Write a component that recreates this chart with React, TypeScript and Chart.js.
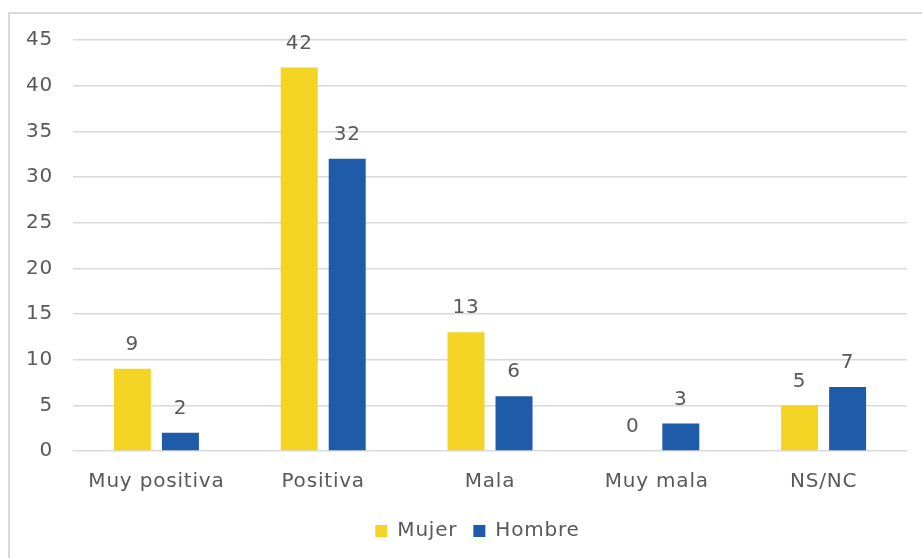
import React, { useEffect, useRef } from "react";
import { Chart, registerables } from "chart.js";

Chart.register(...registerables);

const categories = ["Muy positiva", "Positiva", "Mala", "Muy mala", "NS/NC"];
const mujerValues = [9, 42, 13, 0, 5];
const hombreValues = [2, 32, 6, 3, 7];
const seriesNames = ["Mujer", "Hombre"];
const yTicks = { min: 0, max: 45, step: 5 };

const FONT = "'DejaVu Sans', sans-serif";
const TEXT = "#595959";
const SIZE = 20;
const SPACING = "0.8px";

const spacingPlugin = {
  id: "spacing",
  beforeUpdate(chart: any) {
    chart.ctx.letterSpacing = SPACING;
  },
  afterLayout(chart: any) {
    const lg = chart.legend;
    if (lg) {
      lg.left += 24;
      lg.right += 24;
    }
  },
  beforeDraw(chart: any) {
    chart.ctx.letterSpacing = SPACING;
  },
};

const labelPlugin = {
  id: "valueLabels",
  afterDatasetsDraw(chart: any) {
    const ctx = chart.ctx;
    ctx.save();
    ctx.font = `${SIZE}px ${FONT}`;
    ctx.fillStyle = TEXT;
    ctx.textAlign = "center";
    ctx.textBaseline = "middle";
    chart.data.datasets.forEach((ds: any, i: number) => {
      const meta = chart.getDatasetMeta(i);
      meta.data.forEach((bar: any, j: number) => {
        ctx.fillText(String(ds.data[j]), bar.x, bar.y - 24);
      });
    });
    ctx.restore();
  },
};

export default function App() {
  const ref = useRef<HTMLCanvasElement>(null);
  useEffect(() => {
    if (!ref.current) return;
    const chart = new Chart(ref.current, {
      type: "bar",
      data: {
        labels: categories,
        datasets: [
          { label: seriesNames[0], data: mujerValues, backgroundColor: "#F3D324" },
          { label: seriesNames[1], data: hombreValues, backgroundColor: "#1F5BA8" },
        ],
      },
      options: {
        animation: false,
        responsive: true,
        maintainAspectRatio: false,
        layout: { padding: { left: 0, right: 15, top: 40, bottom: 7 } },
        datasets: { bar: { categoryPercentage: 0.576, barPercentage: 0.77 } },
        scales: {
          x: {
            grid: { display: false },
            border: { display: false },
            ticks: { color: TEXT, font: { family: FONT, size: SIZE }, padding: 11, maxRotation: 0 },
          },
          y: {
            min: yTicks.min,
            max: yTicks.max,
            afterFit(scale: any) {
              scale.width = 73;
            },
            grid: { color: "#D9D9D9", lineWidth: 1.5, drawTicks: false },
            border: { display: false },
            ticks: { stepSize: yTicks.step, color: TEXT, font: { family: FONT, size: SIZE }, padding: 20 },
          },
        },
        plugins: {
          legend: {
            position: "bottom",
            labels: {
              boxWidth: 12,
              boxHeight: 12,
              padding: 16,
              color: TEXT,
              font: { family: FONT, size: SIZE },
            },
          },
          tooltip: { enabled: false },
        },
      },
      plugins: [spacingPlugin, labelPlugin],
    });
    return () => chart.destroy();
  }, []);
  return (
    <div style={{ position: "fixed", left: 0, top: 0, width: 922, height: 558, overflow: "hidden", background: "#fff" }}>
      <div style={{ position: "absolute", left: 8, top: 12, width: 1000, height: 700, border: "2px solid #D9D9D9", boxSizing: "border-box" }} />
      <canvas ref={ref} style={{ position: "absolute", left: 0, top: 0 }} width={922} height={558} />
    </div>
  );
}
